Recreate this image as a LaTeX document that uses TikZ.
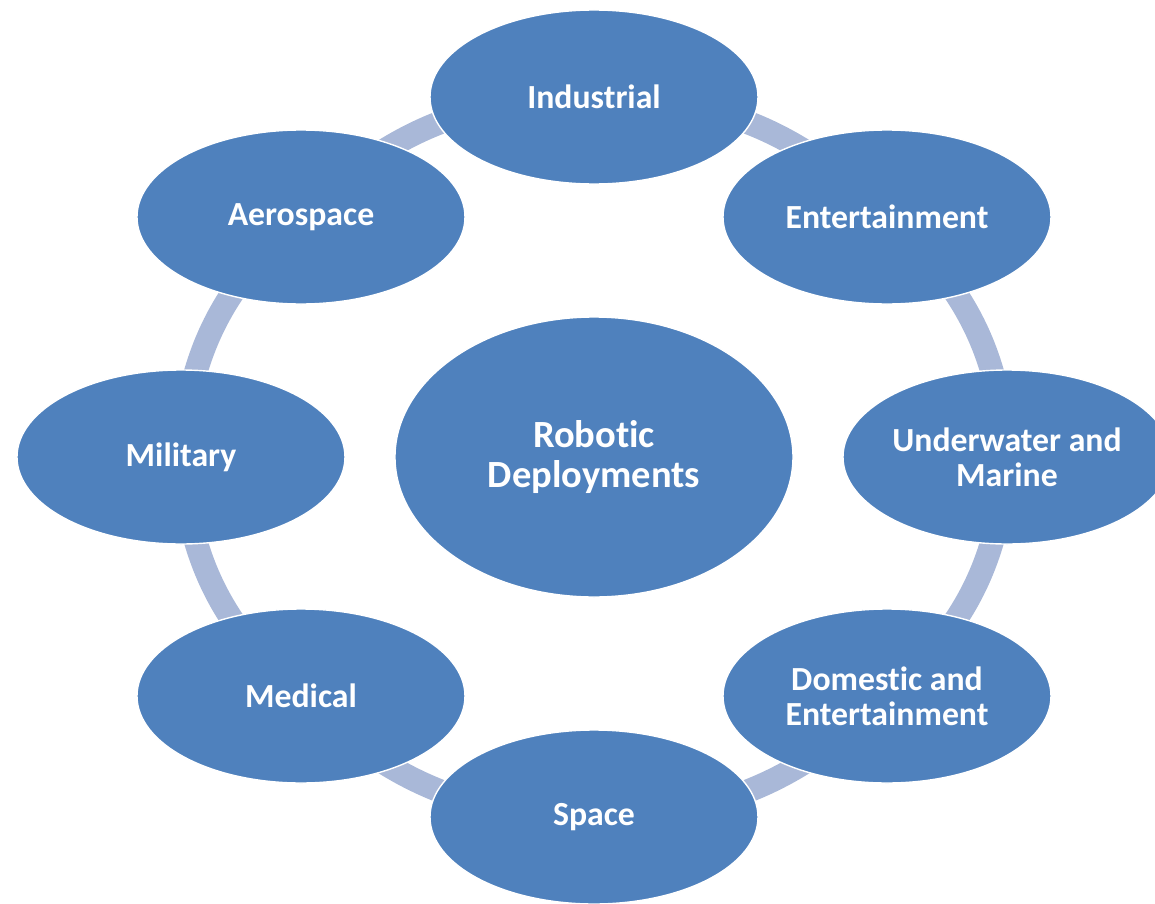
\documentclass[tikz,border=0pt]{standalone}
\usepackage{fontspec}
\setmainfont{Carlito}[Ligatures=NoCommon]
\usetikzlibrary{shapes.geometric, backgrounds}

\begin{document}
\begin{tikzpicture}[
area/.style={ellipse, draw=white, line width=0.8pt, fill=ringblue, text=white, inner sep=0pt, align=center, minimum width=6.56cm, minimum height=3.48cm, font=\bfseries\fontsize{19.2}{20}\selectfont},
hubarea/.style={area, minimum width=7.96cm, minimum height=5.6cm, font=\bfseries\fontsize{21.9}{22.6}\selectfont},
link/.style={draw=linkblue, line width=0.47cm} ]

% Define colors
\definecolor{ringblue}{RGB}{79, 129, 189}
\definecolor{linkblue}{RGB}{169, 184, 216}

\useasboundingbox (-11.88,-8.92) rectangle (11.22,9.14);

% Nodes
\node[hubarea] (hub) at (0,0) {Robotic\\ Deployments};
\node[area] (industrial) at (0,7.2) {Industrial};
\node[area] (entertain) at (5.86,4.8) {Entertainment};
\node[area] (marine) at (8.26,0) {Underwater and\\ Marine};
\node[area] (domestic) at (5.86,-4.78) {Domestic and\\ Entertainment};
\node[area] (space) at (0,-7.2) {Space};
\node[area] (medical) at (-5.86,-4.78) {Medical};
\node[area] (military) at (-8.26,0) {Military};
\node[area] (aerospace) at (-5.86,4.8) {Aerospace};

% Links
\begin{scope}[on background layer]
\draw[link] (industrial.center) to[bend left=22] (entertain.center);
\draw[link] (entertain.center) to[bend left=22] (marine.center);
\draw[link] (marine.center) to[bend left=22] (domestic.center);
\draw[link] (domestic.center) to[bend left=22] (space.center);
\draw[link] (space.center) to[bend left=22] (medical.center);
\draw[link] (medical.center) to[bend left=22] (military.center);
\draw[link] (military.center) to[bend left=22] (aerospace.center);
\draw[link] (aerospace.center) to[bend left=22] (industrial.center);
\end{scope}

\end{tikzpicture}
\end{document}
